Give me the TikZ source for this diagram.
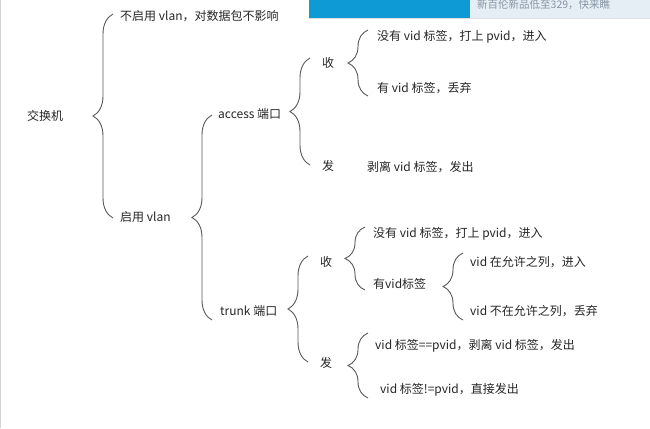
\documentclass[tikz,border=0pt]{standalone}
\usepackage{fontspec}
\newfontfamily\cjk{Noto Sans CJK SC}
\usepackage{tikz}
\usetikzlibrary{decorations.pathreplacing,calc}
\definecolor{ink}{HTML}{262626}
\definecolor{bracegray}{HTML}{5A5A5A}
\definecolor{adblue}{HTML}{0E9BD5}
\definecolor{adpale}{HTML}{E6EEF5}
\definecolor{adtext}{HTML}{8795A3}
\newcommand\brc[5]{\draw[curly] ($(#1,0 |- #3.west)+(0,-#5)$) -- ($(#1,0 |- #2.west)+(0,#4)$);}

\begin{document}
\begin{tikzpicture}[x=1pt,y=1pt,
 t/.style={anchor=west,inner sep=0pt,text=ink,font=\cjk\fontsize{12}{14}\selectfont},
 curly/.style={decorate,decoration={brace,amplitude=20pt},draw=bracegray,line width=0.9pt}]
 \useasboundingbox[fill=white] (0,0) rectangle (650,-428);
 \draw[gray!35,line width=1.2pt] (0.6,0) -- (0.6,-428);
 \fill[adblue] (309,0) rectangle (470,-18);
 \fill[adpale] (470,0) rectangle (650,-18);
 \fill[gray!25] (309,-18) rectangle (650,-19.5);
 \node[anchor=west,inner sep=0pt,text=adtext,font=\cjk\fontsize{10.5}{12}\selectfont] (ad) at (477,-5) {新百伦新品低至329，快来瞧};

 \node[t] (root) at (27,-116) {交换机};
 \node[t] (off) at (120,-16) {不启用 vlan，对数据包不影响};
 \node[t] (on) at (120,-217) {启用 vlan};
 \node[t] (acc) at (218,-114) {access 端口};
 \node[t] (trk) at (220,-311) {trunk 端口};

 \node[t] (arx) at (322,-63) {收};
 \node[t] (atx) at (322,-166) {发};
 \node[t] (arxa) at (377,-37) {没有 vid 标签，打上 pvid，进入};
 \node[t] (arxb) at (377,-88) {有 vid 标签，丢弃};
 \node[t] (atxa) at (367,-167) {剥离 vid 标签，发出};

 \node[t] (trx) at (320,-262) {收};
 \node[t] (ttx) at (320,-363) {发};
 \node[t] (trxa) at (373,-234) {没有 vid 标签，打上 pvid，进入};
 \node[t] (trxb) at (373,-284) {有vid标签};
 \node[t] (tin) at (470,-262) {vid 在允许之列，进入};
 \node[t] (tout) at (470,-311) {vid 不在允许之列，丢弃};
 \node[t] (ttxa) at (375,-346) {vid 标签==pvid，剥离 vid 标签，发出};
 \node[t] (ttxb) at (380,-390) {vid 标签!=pvid，直接发出};

 \brc{113}{off}{on}{2}{1}
 \brc{212}{acc}{trk}{-1}{9}
 \brc{310}{arx}{atx}{5}{-1}
 \brc{368}{arxa}{arxb}{7}{8}
 \brc{308}{trx}{ttx}{6}{-1}
 \brc{365}{trxa}{trxb}{7}{6}
 \brc{463}{tin}{tout}{9}{9}
 \brc{368}{ttxa}{ttxb}{13}{8}
\end{tikzpicture}
\end{document}
